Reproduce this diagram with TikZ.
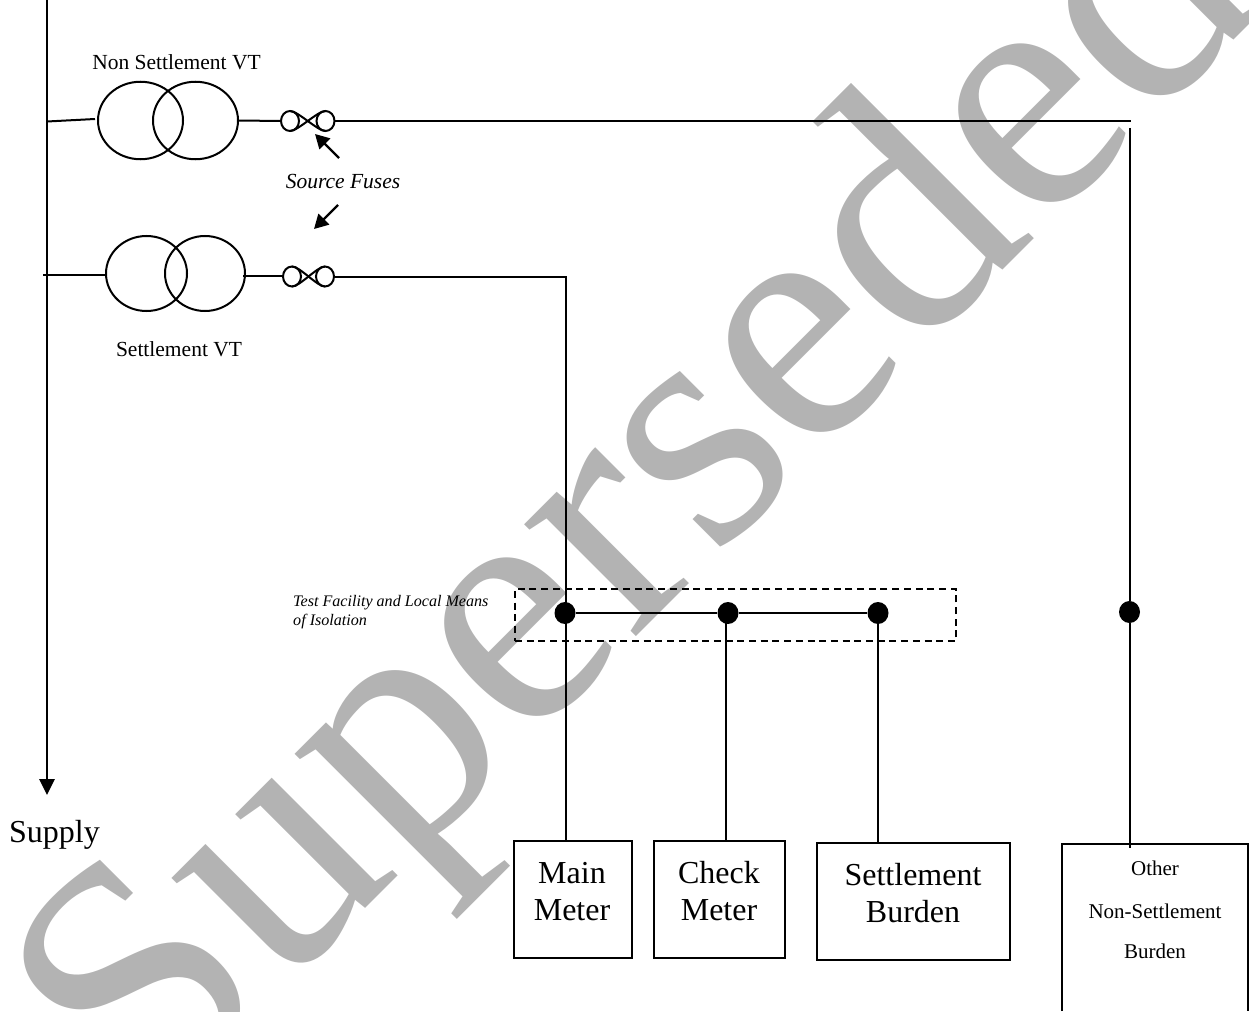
\documentclass[tikz,border=0pt]{standalone}
\usepackage{fontspec}
\setmainfont{Liberation Serif}
\usetikzlibrary{shapes.geometric,arrows.meta}
\definecolor{wm}{HTML}{B3B3B3}
\tikzset{
  wire/.style={line width=2pt,draw=black},
  bus/.style={line width=2.6pt,draw=black,-{Triangle[length=16pt,width=15pt]}},
  ptr/.style={line width=2.3pt,draw=black,-{Triangle[length=14pt,width=15pt]}},
  coil/.style={ellipse,draw=black,line width=2pt,inner sep=0pt,outer sep=0pt,fill=none},
  fusec/.style={ellipse,draw=black,line width=2pt,inner sep=0pt,outer sep=0pt,minimum width=18pt,minimum height=20pt},
  junc/.style={ellipse,fill=black,inner sep=0pt,minimum width=21pt,minimum height=22pt},
  mbox/.style={draw=black,line width=2pt,inner sep=0pt,outer sep=0pt},
  big/.style={font=\fontsize{32}{37}\selectfont,align=center,inner sep=0pt},
  mid/.style={font=\fontsize{21.5}{26}\selectfont,inner sep=0pt},
  small/.style={font=\fontsize{21}{26}\selectfont,inner sep=0pt},
  tiny/.style={font=\fontsize{16.1}{19.3}\selectfont\itshape,align=left,inner sep=0pt,anchor=west},
  wmark/.style={font=\fontsize{344.6}{345}\selectfont,text=wm,inner sep=0pt,rotate=45,anchor=base west}
}
\begin{document}
\begin{tikzpicture}[x=1pt,y=-1pt]
\useasboundingbox (0,0) rectangle (1249,1011);
\clip (0,0) rectangle (1249,1011);
\node[wmark] (wm) at (144.4,1128.9) {Superseded};
% bus
\coordinate (bt) at (47,0);
\coordinate (bb) at (47,795);
\draw[bus] (bt) -- (bb);
\node[big,anchor=west] (supply) at (9,835) {Supply};
% VTs
\node[coil,minimum width=85pt,minimum height=77.5pt] (a1) at (140.5,120.5) {};
\node[coil,minimum width=85pt,minimum height=77.5pt] (a2) at (195.5,120.5) {};
\node[coil,minimum width=81pt,minimum height=75pt] (b1) at (146.5,273.5) {};
\node[coil,minimum width=80pt,minimum height=75pt] (b2) at (205,273.5) {};
\node[mid] (lnon) at (176.5,62) {Non Settlement VT};
\node[mid] (lset) at (179,349) {Settlement VT};
\node[mid,font=\fontsize{21.5}{26}\selectfont\itshape] (lfuse) at (343,182) {Source Fuses};
% fuses
\node[fusec] (f1) at (290,121) {};
\node[fusec] (f2) at (325.5,121) {};
\node[fusec] (g1) at (292,276.5) {};
\node[fusec] (g2) at (325,276.5) {};
\draw[wire] (f1.north) .. controls +(8,0) and +(-8,0) .. (f2.south);
\draw[wire] (f1.south) .. controls +(8,0) and +(-8,0) .. (f2.north);
\draw[wire] (g1.north) .. controls +(8,0) and +(-8,0) .. (g2.south);
\draw[wire] (g1.south) .. controls +(8,0) and +(-8,0) .. (g2.north);
% wiring top
\coordinate (c1) at (47,121.5);
\coordinate (c2) at (95,119);
\draw[wire] (c1) -- (c2);
\draw[wire] (a2.east) -- (f1.west);
\coordinate (tr) at (1131,121);
\draw[wire] (f2.east) -- (tr);
\coordinate (v1) at (1129.5,128);
\node[junc] (j4) at (1129.5,612) {};
\draw[wire] (v1) -- (j4);
% wiring lower
\coordinate (d1) at (43,274.5);
\coordinate (d2) at (106,274.5);
\draw[wire] (d1) -- (d2);
\coordinate (d3) at (243,275.5);
\coordinate (d4) at (283,275.5);
\draw[wire] (d3) -- (d4);
\node[junc] (j1) at (565,613) {};
\node[junc] (j2) at (728,613) {};
\node[junc] (j3) at (878,613) {};
\coordinate (e1) at (566,276.5);
\coordinate (e2) at (566,842);
\draw[wire] (g2.east) -- (e1) -- (e2);
\draw[wire] (j1) -- (j2);
\draw[wire] (j2) -- (j3);
\coordinate (k2) at (726,613);
\coordinate (k2b) at (726,842);
\draw[wire] (k2) -- (k2b);
\coordinate (k3b) at (878,843);
\draw[wire] (j3) -- (k3b);
\coordinate (k4b) at (1129.5,848);
\draw[wire] (j4) -- (k4b);
% pointers
\coordinate (p1) at (339,158);
\coordinate (p1b) at (315,134);
\coordinate (p2) at (338,205);
\coordinate (p2b) at (314,229);
\draw[ptr] (p1) -- (p1b);
\draw[ptr] (p2) -- (p2b);
% dashed
\node[draw=black,line width=1.7pt,dash pattern=on 7pt off 4.7pt,minimum width=441pt,minimum height=52pt,inner sep=0pt] (tf) at (735.5,615) {};
\node[tiny] (ltf) at (293,612) {Test Facility and Local Means\\of Isolation};
% boxes
\node[mbox,minimum width=118pt,minimum height=117pt] (mm) at (573,899.5) {};
\node[big] (mmt) at (572,891.5) {Main\\Meter};
\node[mbox,minimum width=131pt,minimum height=117pt] (cm) at (719.5,899.5) {};
\node[big] (cmt) at (719,891.5) {Check\\Meter};
\node[mbox,minimum width=193pt,minimum height=117pt] (sb) at (913.5,901.5) {};
\node[big] (sbt) at (913,893.5) {Settlement\\Burden};
\coordinate (o1) at (1061.5,1011);
\coordinate (o2) at (1061.5,844);
\coordinate (o3) at (1248,844);
\coordinate (o4) at (1248,1011);
\draw[wire] (o1) -- (o2) -- (o3) -- (o4);
\node[small] (ot1) at (1155,868) {Other};
\node[small] (ot2) at (1155,911) {Non-Settlement};
\node[small] (ot3) at (1155,951) {Burden};
\end{tikzpicture}
\end{document}
